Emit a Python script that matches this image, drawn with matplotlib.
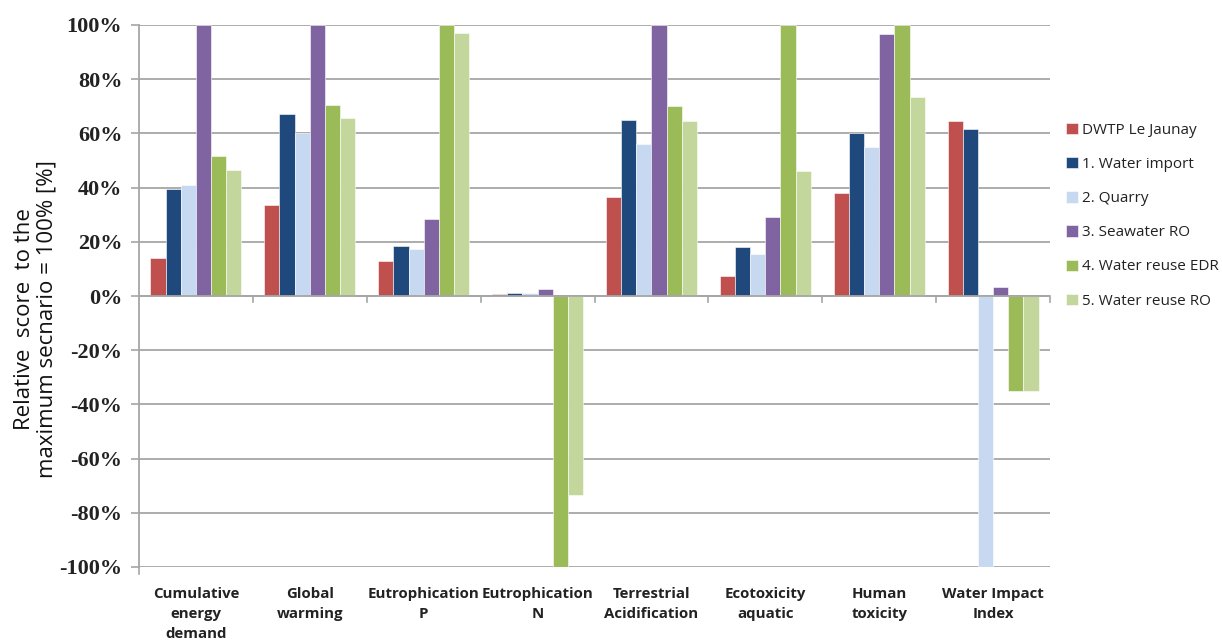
import matplotlib
matplotlib.use("Agg")
import matplotlib.pyplot as plt
import numpy as np

categories = ["Cumulative\nenergy\ndemand", "Global\nwarming", "Eutrophication\nP",
              "Eutrophication\nN", "Terrestrial\nAcidification", "Ecotoxicity\naquatic",
              "Human\ntoxicity", "Water Impact\nIndex"]
series_names = ["DWTP Le Jaunay", "1. Water import", "2. Quarry", "3. Seawater RO",
                "4. Water reuse EDR", "5. Water reuse RO"]
dwtp = [14, 33.5, 13, 0.7, 36.5, 7.5, 38, 64.5]
water_import = [39.5, 67, 18.5, 1.2, 65, 18, 60, 61.5]
quarry = [41, 60, 17.5, 1.0, 56, 15.5, 55, -100]
seawater_ro = [100, 100, 28.5, 2.7, 100, 29, 96.5, 3.5]
reuse_edr = [51.5, 70.5, 100, -100, 70, 100, 100, -35]
reuse_ro = [46.5, 65.5, 97, -73.5, 64.5, 46, 73.5, -35]
yticks = [-100, -80, -60, -40, -20, 0, 20, 40, 60, 80, 100]

colors = ["#C0504D", "#1F497D", "#C6D9F1", "#8064A2", "#9BBB59", "#C3D69B"]
series = [dwtp, water_import, quarry, seawater_ro, reuse_edr, reuse_ro]

fig = plt.figure(figsize=(12.22, 6.41), dpi=100)
ax = fig.add_axes([139/1222, 1-567/641, (1050-139)/1222, (567-25)/641])

n = len(series)
bw = 1/(n+1.5)
x = np.arange(len(categories))
for i, (vals, c, name) in enumerate(zip(series, colors, series_names)):
    off = (i - (n-1)/2) * bw
    ax.bar(x + off, vals, width=bw, color=c, edgecolor="white", linewidth=0.4, label=name, zorder=3)

ax.set_xlim(-0.5, len(categories)-0.5)
ax.set_ylim(-100, 100)
ax.set_yticks(yticks)
ax.set_yticklabels([f"{v}%" for v in yticks], family="Liberation Serif", fontweight="bold",
                   fontsize=16, color="#222222")
ax.yaxis.grid(True, color="#A6A6A6", linewidth=1.3, zorder=0)
ax.tick_params(axis="y", length=6, color="#A6A6A6", width=1.2, pad=6)
ax.set_xticks([])
for s in ["top", "right", "bottom"]:
    ax.spines[s].set_visible(False)
ax.spines["left"].set_color("#A6A6A6")
ax.spines["left"].set_linewidth(1.3)

# zero axis line with category boundary ticks
ax.axhline(0, color="#A6A6A6", linewidth=1.3, zorder=4)
for b in np.arange(0.5, len(categories), 1.0):
    ax.plot([b, b], [0, -2.2], color="#A6A6A6", linewidth=1.2, zorder=4, clip_on=False)
ax.plot([-0.5, -0.5], [-100, -102.5], color="#A6A6A6", linewidth=1.2, clip_on=False)

for xi, lab in zip(x, categories):
    ax.text(xi, -107.3, lab, ha="center", va="top", fontsize=10.8, fontweight="bold",
            family="Open Sans", color="#222222", linespacing=1.55, clip_on=False)

fig.text(0.029, 0.5 + 0.003, "Relative  score  to the\nmaximum secnario = 100% [%]", rotation=90,
         ha="center", va="center", fontsize=16, family="Open Sans", color="#111111",
         linespacing=1.1)

leg = ax.legend(loc="center left", bbox_to_anchor=(1.003, 0.648), frameon=False,
                prop={"family": "Open Sans", "size": 11}, handlelength=0.75, handleheight=0.75,
                handletextpad=0.25, labelspacing=1.25)
for t in leg.get_texts():
    t.set_color("#222222")

fig.savefig("out.png", dpi=100)
